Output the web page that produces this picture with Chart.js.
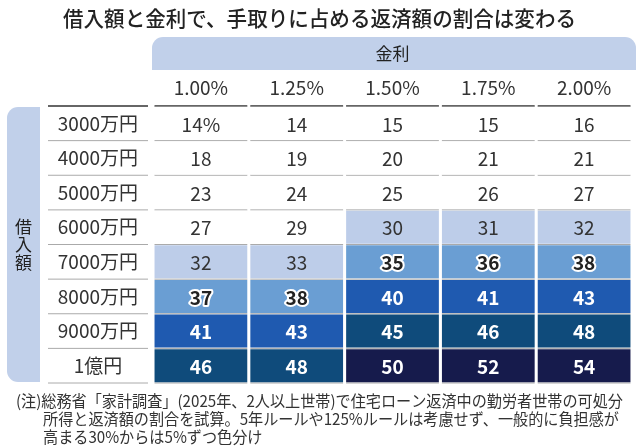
<!DOCTYPE html>
<html>
<head>
<meta charset="utf-8">
<script src="https://cdn.jsdelivr.net/npm/chart.js@4.4.1/dist/chart.umd.min.js"></script>
<style>
  html, body { margin: 0; padding: 0; background: #fff; }
  #wrap { width: 638px; height: 447px; position: relative; }
</style>
</head>
<body>
<div id="wrap"><canvas id="heatChart"></canvas></div>
<script>
// 金利（列）
var rates = ['1.00%', '1.25%', '1.50%', '1.75%', '2.00%'];
// 借入額（行）
var loans = ['3000万円', '4000万円', '5000万円', '6000万円', '7000万円', '8000万円', '9000万円', '1億円'];

// 手取りに占める返済額の割合（%）  金利ごと
var rate100 = [14, 18, 23, 27, 32, 37, 41, 46];
var rate125 = [14, 19, 24, 29, 33, 38, 43, 48];
var rate150 = [15, 20, 25, 30, 35, 40, 45, 50];
var rate175 = [15, 21, 26, 31, 36, 41, 46, 52];
var rate200 = [16, 21, 27, 32, 38, 43, 48, 54];
var shares = [rate100, rate125, rate150, rate175, rate200];

var titleText = '借入額と金利で、手取りに占める返済額の割合は変わる';
var noteLines = [
  '(注)総務省「家計調査」(2025年、2人以上世帯)で住宅ローン返済中の勤労者世帯の可処分',
  '所得と返済額の割合を試算。5年ルールや125%ルールは考慮せず、一般的に負担感が',
  '高まる30%からは5%ずつ色分け'
];

var FONT = "'Noto Sans CJK JP', 'Noto Sans', sans-serif";
Chart.defaults.font.family = FONT;

// 30%から5%ずつ色分け
function cellColor(v) {
  if (v >= 50) return '#161b4c';
  if (v >= 45) return '#0f4b7b';
  if (v >= 40) return '#1f5ab0';
  if (v >= 35) return '#6a9ed3';
  if (v >= 30) return '#bdcde9';
  return '#ffffff';
}

var datasets = shares.map(function(col, i) {
  return {
    label: rates[i],
    data: col.map(function() { return [i + 0.016, i + 0.984]; }),
    backgroundColor: col.map(cellColor),
    borderWidth: 0,
    categoryPercentage: 1,
    barPercentage: 0.95
  };
});

// 横幅を合わせて描く（元図の字は少し長体）
function squeezeText(ctx, txt, x, y, sx) {
  ctx.save();
  ctx.translate(x, y);
  ctx.scale(sx, 1);
  ctx.fillText(txt, 0, 0);
  ctx.restore();
}

// 見出し・罫線・注記
var decoPlugin = {
  id: 'deco',
  beforeDatasetsDraw: function(chart) {
    var ctx = chart.ctx, area = chart.chartArea;
    var rowH = (area.bottom - area.top) / loans.length;
    ctx.save();
    // 金利 header
    ctx.fillStyle = '#c1d0ea';
    ctx.beginPath();
    ctx.roundRect(area.left - 1, 37, 636 - area.left + 1, 33, [11, 11, 0, 0]);
    ctx.fill();
    ctx.fillStyle = '#222';
    ctx.font = '17px ' + FONT;
    ctx.textAlign = 'center';
    ctx.textBaseline = 'middle';
    ctx.fillText('金利', (area.left + area.right) / 2, 54);

    // 借入額 side band
    ctx.fillStyle = '#c1d0ea';
    ctx.beginPath();
    ctx.roundRect(7, area.top + 1, 33, area.bottom - area.top - 2, [11, 0, 0, 11]);
    ctx.fill();
    ctx.fillStyle = '#222';
    var midY = (area.top + area.bottom) / 2;
    ['借', '入', '額'].forEach(function(c, k) {
      ctx.fillText(c, 23.5, midY - 18 + k * 18);
    });

    // row lines
    var colW = (area.right - area.left) / rates.length;
    var segs = [[48, 148]];
    for (var i = 0; i < rates.length; i++) {
      segs.push([area.left + i * colW + 1.5, area.left + (i + 1) * colW - 1.5]);
    }
    for (var r = 0; r <= loans.length; r++) {
      var y = area.top + r * rowH;
      ctx.strokeStyle = r === 0 ? '#666' : '#aaa';
      ctx.lineWidth = r === 0 ? 2 : 1;
      segs.forEach(function(s) {
        ctx.beginPath();
        ctx.moveTo(s[0], y);
        ctx.lineTo(s[1], y);
        ctx.stroke();
      });
    }
    ctx.restore();
  },
  afterDatasetsDraw: function(chart) {
    var ctx = chart.ctx;
    ctx.save();
    ctx.textAlign = 'center';
    ctx.textBaseline = 'middle';
    chart.data.datasets.forEach(function(ds, i) {
      var meta = chart.getDatasetMeta(i);
      meta.data.forEach(function(bar, j) {
        var v = shares[i][j];
        var txt = (i === 0 && j === 0) ? v + '%' : String(v);
        var cx = (bar.x + bar.base) / 2, cy = bar.y + 1;
        if (v >= 40) {
          ctx.font = 'bold 19px ' + FONT;
          ctx.fillStyle = '#fff';
          ctx.fillText(txt, cx, cy);
        } else if (v >= 35) {
          ctx.font = 'bold 19px ' + FONT;
          ctx.lineWidth = 4;
          ctx.lineJoin = 'round';
          ctx.strokeStyle = '#fff';
          ctx.strokeText(txt, cx, cy);
          ctx.fillStyle = '#222';
          ctx.fillText(txt, cx, cy);
        } else {
          ctx.font = '19px ' + FONT;
          ctx.fillStyle = '#333';
          ctx.fillText(txt, cx, cy);
        }
      });
    });

    // title
    ctx.fillStyle = '#222';
    ctx.font = '500 21px ' + FONT;
    ctx.textAlign = 'left';
    var tw = ctx.measureText(titleText).width;
    squeezeText(ctx, titleText, 63, 18, 513 / tw);

    // note
    ctx.fillStyle = '#333';
    ctx.font = '16px ' + FONT;
    var nw = ctx.measureText(noteLines[0]).width;
    var sx = 607 / nw;
    squeezeText(ctx, noteLines[0], 16, 401, sx);
    squeezeText(ctx, noteLines[1], 43, 419, sx);
    squeezeText(ctx, noteLines[2], 43, 436.5, sx);
    ctx.restore();
  }
};

var ctx = document.getElementById('heatChart').getContext('2d');
var heatChart = new Chart(ctx, {
  type: 'bar',
  data: { labels: loans, datasets: datasets },
  options: {
    indexAxis: 'y',
    responsive: true,
    maintainAspectRatio: false,
    animation: false,
    layout: { padding: { top: 0, left: 48, right: 6, bottom: 64 } },
    plugins: {
      legend: { display: false },
      tooltip: { enabled: false },
      title: { display: false }
    },
    datasets: { bar: { grouped: false } },
    scales: {
      x: {
        type: 'linear',
        position: 'top',
        min: 0,
        max: 5,
        grid: { display: false, drawTicks: false },
        border: { display: false },
        afterBuildTicks: function(scale) {
          scale.ticks = rates.map(function(r, i) { return { value: i + 0.5 }; });
        },
        afterFit: function(scale) { scale.height = 106; },
        ticks: {
          padding: 7,
          color: '#333',
          font: { family: FONT, size: 19 },
          maxRotation: 0,
          autoSkip: false,
          callback: function(value, index) { return rates[index]; }
        }
      },
      y: {
        type: 'category',
        grid: { display: false, drawTicks: false },
        border: { display: false },
        afterFit: function(scale) { scale.width = 105; },
        ticks: {
          crossAlign: 'center',
          padding: 15,
          color: '#333',
          font: { family: FONT, size: 19 }
        }
      }
    }
  },
  plugins: [decoPlugin]
});
</script>
</body>
</html>
